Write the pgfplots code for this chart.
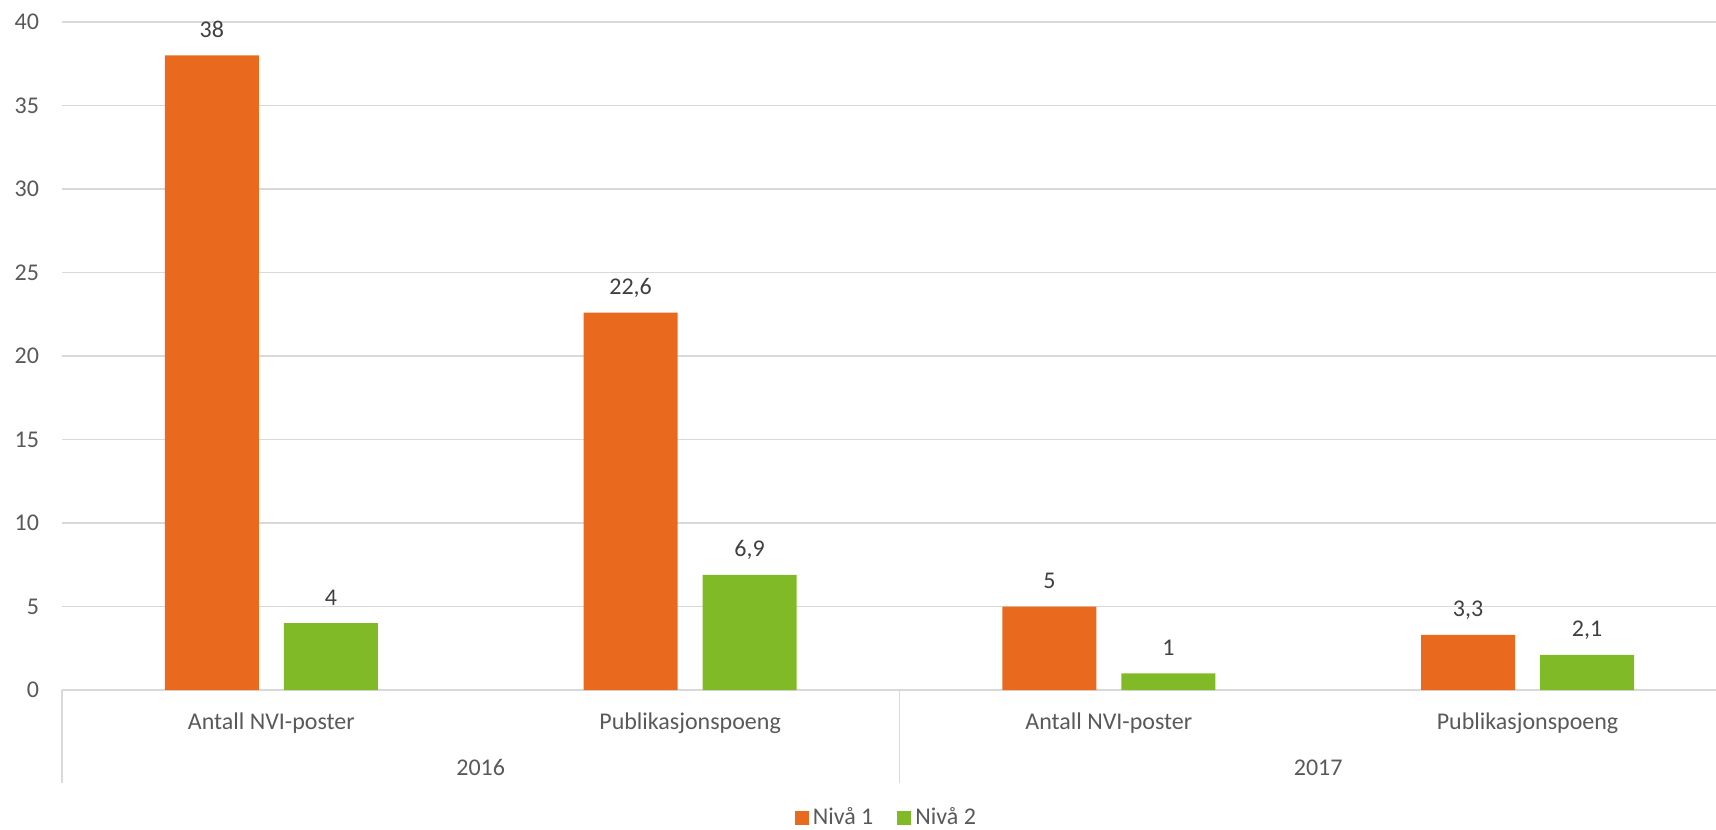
\documentclass[border=0pt]{standalone}
\usepackage{pgfplots}
\pgfplotsset{compat=1.18}
\usepackage{fontspec}
\setmainfont{Carlito}
\definecolor{niva1}{HTML}{E96A1F}
\definecolor{niva2}{HTML}{80BA27}
\definecolor{gridgray}{HTML}{D9D9D9}
\definecolor{txt}{HTML}{595959}
\definecolor{lbl}{HTML}{404040}

\begin{document}
\begin{tikzpicture}
\begin{axis}[
  scale only axis,
  width=827pt, height=334pt,
  xmin=-0.5, xmax=3.45,
  ymin=0, ymax=40,
  ytick={0,5,...,40},
  xtick=\empty,
  ymajorgrids,
  grid style={gridgray, line width=0.75pt},
  axis line style={draw=none},
  major tick length=0pt,
  ybar=12.5pt, bar width=47pt,
  tick label style={txt, font=\fontsize{12}{14}\selectfont},
  yticklabel style={xshift=-8pt},
  /pgf/number format/assume math mode=true,
  /pgf/number format/use comma,
  nodes near coords,
  every node near coord/.append style={lbl, anchor=base, yshift=9pt, font=\fontsize{12}{14}\selectfont},
  clip=false,
  legend style={at={(0.499,-0.1916)}, anchor=center, legend columns=-1, draw=none,
    font=\fontsize{12}{14}\selectfont, text=txt,
    /tikz/every even column/.append style={column sep=10pt}},
  legend image code/.code={\fill[#1] (0pt,-3.5pt) rectangle (7pt,3.5pt);},
]
\addplot[fill=niva1, draw=none] coordinates {(0,38) (1,22.6) (2,5) (3,3.3)};
\addplot[fill=niva2, draw=none] coordinates {(0,4) (1,6.9) (2,1) (3,2.1)};
\legend{Nivå 1, Nivå 2}

\begin{scope}[every node/.style={txt, anchor=base, font=\fontsize{12}{14}\selectfont}]
\node[yshift=-19.5pt] at (axis cs:0,0) {Antall NVI-poster};
\node[yshift=-19.5pt] at (axis cs:1,0) {Publikasjonspoeng};
\node[yshift=-19.5pt] at (axis cs:2,0) {Antall NVI-poster};
\node[yshift=-19.5pt] at (axis cs:3,0) {Publikasjonspoeng};
\node[yshift=-42.5pt] at (axis cs:0.5,0) {2016};
\node[yshift=-42.5pt] at (axis cs:2.5,0) {2017};
\end{scope}
\draw[gridgray, line width=0.75pt] (axis cs:-0.5,0) -- ([yshift=-46.5pt]axis cs:-0.5,0);
\draw[gridgray, line width=0.75pt] (axis cs:1.5,0) -- ([yshift=-46.5pt]axis cs:1.5,0);
\end{axis}
\pgfresetboundingbox
\path (-31pt,-69.5pt) rectangle (827pt,345pt);
\end{tikzpicture}
\end{document}
